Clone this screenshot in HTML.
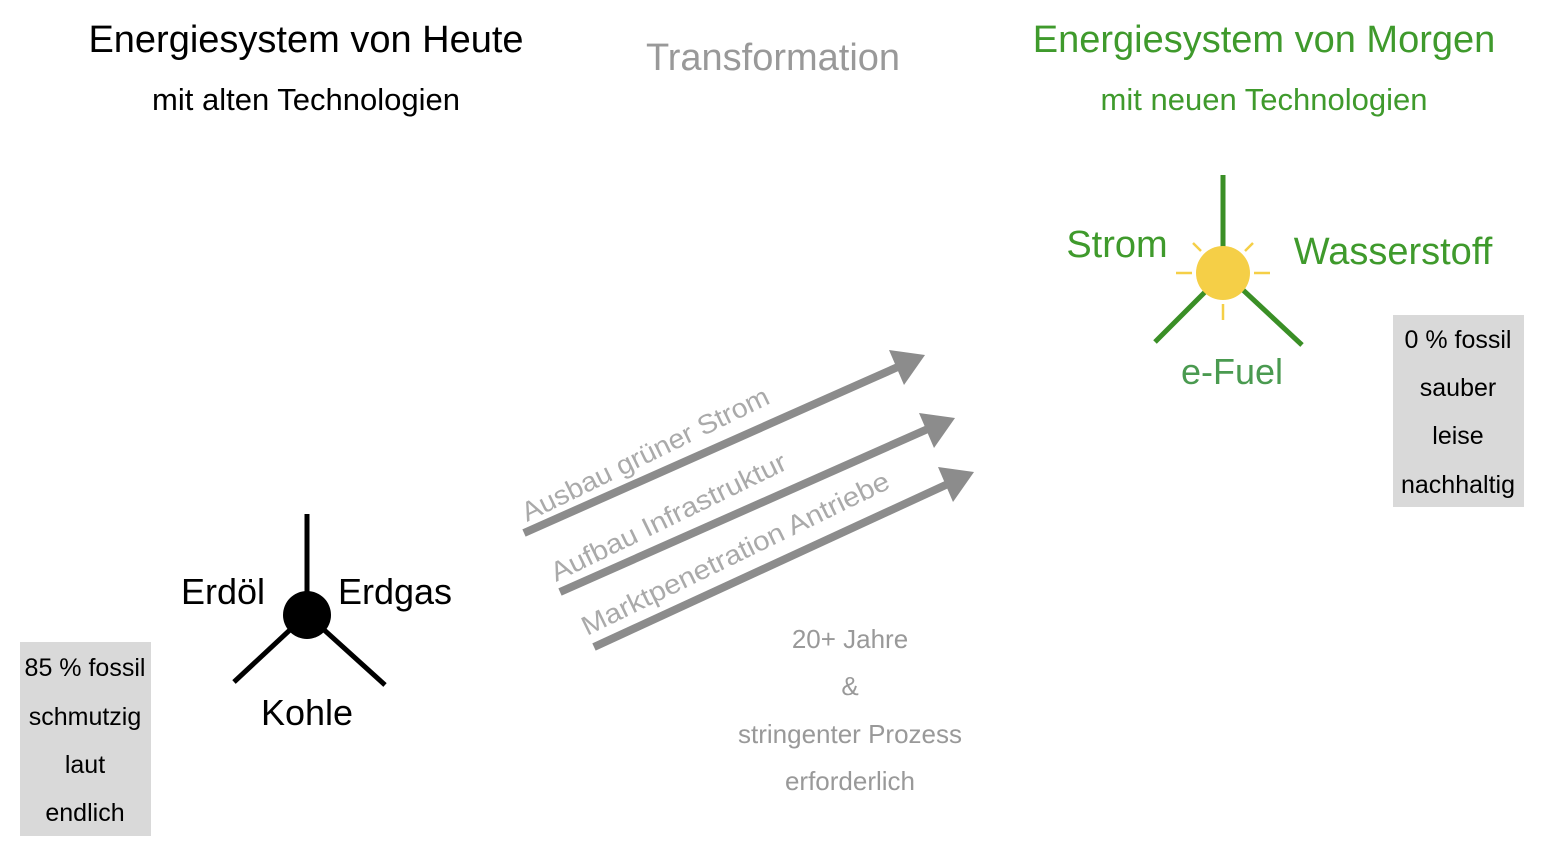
<!DOCTYPE html>
<html><head><meta charset="utf-8"><style>
body{margin:0;width:1562px;height:850px;background:#fff;overflow:hidden}
svg text{font-family:"Liberation Sans",sans-serif}
</style></head><body>
<svg width="1562" height="850" xmlns="http://www.w3.org/2000/svg">
<text x="306" y="52" font-size="38" text-anchor="middle" fill="#000">Energiesystem von Heute</text>
<text x="306" y="110" font-size="31" text-anchor="middle" fill="#000">mit alten Technologien</text>
<text x="773" y="70" font-size="38" text-anchor="middle" fill="#999">Transformation</text>
<text x="1264" y="52" font-size="38" text-anchor="middle" fill="#3f9a2c">Energiesystem von Morgen</text>
<text x="1264" y="110" font-size="31" text-anchor="middle" fill="#3f9a2c">mit neuen Technologien</text>

<g stroke="#000" stroke-width="5">
<line x1="307" y1="514" x2="307" y2="600"/>
<line x1="292" y1="628" x2="234" y2="682"/>
<line x1="322" y1="628" x2="385" y2="685"/>
</g>
<circle cx="307" cy="615" r="24" fill="#000"/>
<text x="223" y="604" font-size="36" text-anchor="middle">Erdöl</text>
<text x="395" y="604" font-size="36" text-anchor="middle">Erdgas</text>
<text x="307" y="725" font-size="36" text-anchor="middle">Kohle</text>
<rect x="20" y="642" width="131" height="194" fill="#d9d9d9"/>
<g font-size="25" text-anchor="middle">
<text x="85" y="676">85 % fossil</text>
<text x="85" y="725">schmutzig</text>
<text x="85" y="773">laut</text>
<text x="85" y="821">endlich</text>
</g>

<g stroke="#3a8f26" stroke-width="5">
<line x1="1223" y1="175" x2="1223" y2="250"/>
<line x1="1205" y1="292" x2="1155" y2="342"/>
<line x1="1243" y1="290" x2="1302" y2="345"/>
</g>
<g stroke="#f5cf47" stroke-width="2.5">
<line x1="1176" y1="273" x2="1192" y2="273"/><line x1="1254" y1="273" x2="1270" y2="273"/>
<line x1="1223" y1="304" x2="1223" y2="320"/>
<line x1="1193" y1="243" x2="1201" y2="251"/><line x1="1253" y1="243" x2="1245" y2="251"/>
</g>
<circle cx="1223" cy="273" r="27" fill="#f5cf47"/>
<text x="1117" y="257" font-size="38" text-anchor="middle" fill="#3f9a2c">Strom</text>
<text x="1393" y="264" font-size="38" text-anchor="middle" fill="#3f9a2c">Wasserstoff</text>
<text x="1232" y="384" font-size="36" text-anchor="middle" fill="#4a9a50">e-Fuel</text>
<rect x="1393" y="315" width="131" height="192" fill="#d9d9d9"/>
<g font-size="25" text-anchor="middle">
<text x="1458" y="348">0 % fossil</text>
<text x="1458" y="396">sauber</text>
<text x="1458" y="444">leise</text>
<text x="1458" y="493">nachhaltig</text>
</g>

<g stroke="#8c8c8c" stroke-width="8">
<line x1="524" y1="533" x2="900" y2="366"/>
<line x1="560" y1="592" x2="930" y2="428"/>
<line x1="594" y1="647" x2="950" y2="483"/>
</g>
<g fill="#8c8c8c">
<polygon points="925,355 889,350 904,385"/>
<polygon points="955,418 919,413 934,448"/>
<polygon points="974,472 938,467 953,502"/>
</g>
<g font-size="27" fill="#aaa">
<text transform="translate(527,522) rotate(-26)" textLength="272" lengthAdjust="spacingAndGlyphs">Ausbau grüner Strom</text>
<text transform="translate(556,582) rotate(-26)" textLength="259" lengthAdjust="spacingAndGlyphs">Aufbau Infrastruktur</text>
<text transform="translate(587,636) rotate(-26)" textLength="339" lengthAdjust="spacingAndGlyphs">Marktpenetration Antriebe</text>
</g>
<g font-size="26" fill="#999" text-anchor="middle">
<text x="850" y="648">20+ Jahre</text>
<text x="850" y="695">&amp;</text>
<text x="850" y="743">stringenter Prozess</text>
<text x="850" y="790">erforderlich</text>
</g>
</svg>
</body></html>
